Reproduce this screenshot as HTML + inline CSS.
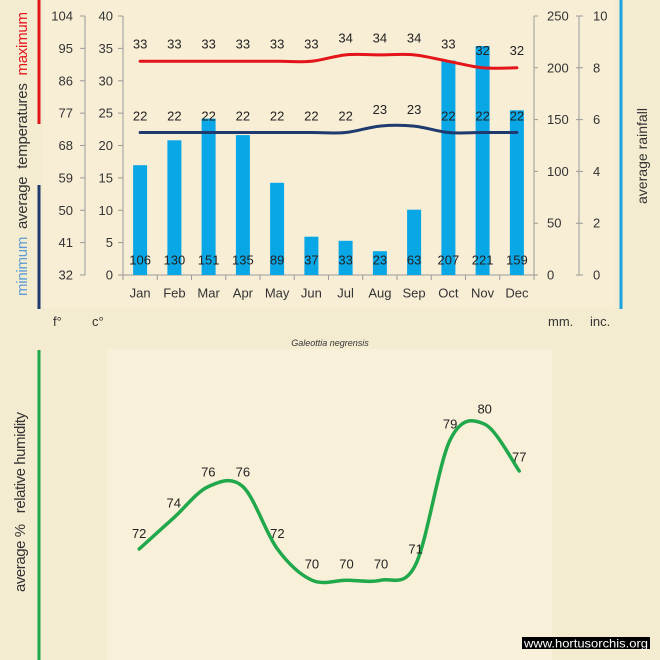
<!DOCTYPE html>
<html><head><meta charset="utf-8"><style>
html,body{margin:0;padding:0;background:#f4ecd1;}
svg{display:block;}
text{font-family:"Liberation Sans",sans-serif;}
.pre{white-space:pre;}
</style></head><body>
<svg width="660" height="660" viewBox="0 0 660 660" xmlns="http://www.w3.org/2000/svg">
<rect x="0" y="0" width="660" height="660" fill="#f4ecd1"/>
<rect x="43" y="0" width="572" height="308" fill="#f8eed6"/>
<rect x="107" y="349" width="445" height="311" fill="#f9f0da"/>

<!-- side colored bars -->
<rect x="37.5" y="0" width="3" height="124" fill="#e3151b"/>
<rect x="37.5" y="185" width="3" height="124" fill="#1f3a6e"/>
<rect x="619.5" y="0" width="3" height="309" fill="#1aa3e0"/>
<rect x="37.5" y="350" width="3" height="310" fill="#20a84b"/>

<!-- rotated titles -->
<text class="pre" transform="translate(27,296) rotate(-90)" font-size="15" textLength="284" lengthAdjust="spacing" fill="#333"><tspan fill="#5b9bd5">minimum</tspan>  average  temperatures  <tspan fill="#e3151b">maximum</tspan></text>
<text transform="translate(647,204) rotate(-90)" font-size="14" textLength="96" lengthAdjust="spacing" fill="#333">average rainfall</text>
<text class="pre" transform="translate(25,592) rotate(-90)" font-size="15" textLength="180" lengthAdjust="spacing" fill="#333">average %   relative humidity</text>

<!-- axes -->
<g stroke="#9a9a9a" stroke-width="1" fill="none">
<line x1="85" y1="16" x2="85" y2="275"/>
<line x1="123" y1="16" x2="123" y2="275"/>
<line x1="534" y1="16" x2="534" y2="275"/>
<line x1="579" y1="16" x2="579" y2="275"/>
<line x1="123" y1="275" x2="534" y2="275"/>
<path d="M80,16H85M80,48.4H85M80,80.75H85M80,113.1H85M80,145.5H85M80,177.9H85M80,210.25H85M80,242.6H85M80,275H85"/>
<path d="M118,16H123M118,48.4H123M118,80.75H123M118,113.1H123M118,145.5H123M118,177.9H123M118,210.25H123M118,242.6H123M118,275H123"/>
<path d="M534,16H538M534,67.8H538M534,119.6H538M534,171.4H538M534,223.2H538M534,275H538"/>
<path d="M576,16H583M576,67.8H583M576,119.6H583M576,171.4H583M576,223.2H583M576,275H583"/>
<path d="M123,275V280M157.25,275V280M191.5,275V280M225.75,275V280M260,275V280M294.25,275V280M328.5,275V280M362.75,275V280M397,275V280M431.25,275V280M465.5,275V280M499.75,275V280M534,275V280"/>
</g>

<!-- axis labels -->
<g font-size="13" fill="#333" text-anchor="end">
<text x="73" y="20.5">104</text><text x="73" y="52.9">95</text><text x="73" y="85.25">86</text><text x="73" y="117.6">77</text><text x="73" y="150">68</text><text x="73" y="182.4">59</text><text x="73" y="214.75">50</text><text x="73" y="247.1">41</text><text x="73" y="279.5">32</text>
<text x="113" y="20.5">40</text><text x="113" y="52.9">35</text><text x="113" y="85.25">30</text><text x="113" y="117.6">25</text><text x="113" y="150">20</text><text x="113" y="182.4">15</text><text x="113" y="214.75">10</text><text x="113" y="247.1">5</text><text x="113" y="279.5">0</text>
</g>
<g font-size="13" fill="#333" text-anchor="start">
<text x="547" y="20.5">250</text><text x="547" y="72.3">200</text><text x="547" y="124.1">150</text><text x="547" y="175.9">100</text><text x="547" y="227.7">50</text><text x="547" y="279.5">0</text>
<text x="593" y="20.5">10</text><text x="593" y="72.3">8</text><text x="593" y="124.1">6</text><text x="593" y="175.9">4</text><text x="593" y="227.7">2</text><text x="593" y="279.5">0</text>
</g>
<g font-size="13" fill="#333" text-anchor="middle">
<text x="140.1" y="297.5">Jan</text><text x="174.4" y="297.5">Feb</text><text x="208.6" y="297.5">Mar</text><text x="242.9" y="297.5">Apr</text><text x="277.1" y="297.5">May</text><text x="311.4" y="297.5">Jun</text><text x="345.6" y="297.5">Jul</text><text x="379.9" y="297.5">Aug</text><text x="414.1" y="297.5">Sep</text><text x="448.4" y="297.5">Oct</text><text x="482.6" y="297.5">Nov</text><text x="516.9" y="297.5">Dec</text>
</g>
<g font-size="13" fill="#333">
<text x="53" y="326">f°</text><text x="92" y="326">c°</text>
<text x="548" y="326">mm.</text><text x="590" y="326">inc.</text>
</g>

<!-- bars -->
<g fill="#0aa7e6">
<rect x="133.1" y="165.2" width="14" height="109.8"/>
<rect x="167.4" y="140.3" width="14" height="134.7"/>
<rect x="201.6" y="118.6" width="14" height="156.4"/>
<rect x="235.9" y="135.1" width="14" height="139.9"/>
<rect x="270.1" y="182.8" width="14" height="92.2"/>
<rect x="304.4" y="236.7" width="14" height="38.3"/>
<rect x="338.6" y="240.8" width="14" height="34.2"/>
<rect x="372.9" y="251.2" width="14" height="23.8"/>
<rect x="407.1" y="209.7" width="14" height="65.3"/>
<rect x="441.4" y="60.5" width="14" height="214.5"/>
<rect x="475.6" y="46" width="14" height="229"/>
<rect x="509.9" y="110.3" width="14" height="164.7"/>
</g>

<!-- temperature lines -->
<path d="M140.1,61.3 L277.1,61.3 C288.5,61.3 300,62.375 311.4,61.3 C322.8,60.225 334.2,55.925 345.6,54.85 C357,53.775 368.5,54.85 379.9,54.85 C391.3,54.85 402.7,53.775 414.1,54.85 C425.5,55.925 437,59.14 448.4,61.3 C459.8,63.46 471.2,66.72 482.6,67.8 C494,68.88 511.2,67.8 516.9,67.8" fill="none" stroke="#e3151b" stroke-width="3" stroke-linecap="round"/>
<path d="M140.1,132.55 L311.4,132.55 C322.8,132.55 334.2,133.625 345.6,132.55 C357,131.475 368.5,127.175 379.9,126.1 C391.3,125.025 402.7,125.025 414.1,126.1 C425.5,127.175 437,131.475 448.4,132.55 C459.8,133.625 471.2,132.55 482.6,132.55 L516.9,132.55" fill="none" stroke="#1f3a6e" stroke-width="3" stroke-linecap="round"/>

<!-- data labels -->
<g font-size="13" fill="#222" text-anchor="middle">
<text x="140.1" y="48.5">33</text><text x="174.4" y="48.5">33</text><text x="208.6" y="48.5">33</text><text x="242.9" y="48.5">33</text><text x="277.1" y="48.5">33</text><text x="311.4" y="48.5">33</text><text x="345.6" y="42.5">34</text><text x="379.9" y="42.5">34</text><text x="414.1" y="42.5">34</text><text x="448.4" y="48.5">33</text><text x="482.6" y="55">32</text><text x="516.9" y="55">32</text>
<text x="140.1" y="120.5">22</text><text x="174.4" y="120.5">22</text><text x="208.6" y="120.5">22</text><text x="242.9" y="120.5">22</text><text x="277.1" y="120.5">22</text><text x="311.4" y="120.5">22</text><text x="345.6" y="120.5">22</text><text x="379.9" y="114">23</text><text x="414.1" y="114">23</text><text x="448.4" y="120.5">22</text><text x="482.6" y="120.5">22</text><text x="516.9" y="120.5">22</text>
<text x="140.1" y="264.5">106</text><text x="174.4" y="264.5">130</text><text x="208.6" y="264.5">151</text><text x="242.9" y="264.5">135</text><text x="277.1" y="264.5">89</text><text x="311.4" y="264.5">37</text><text x="345.6" y="264.5">33</text><text x="379.9" y="264.5">23</text><text x="414.1" y="264.5">63</text><text x="448.4" y="264.5">207</text><text x="482.6" y="264.5">221</text><text x="516.9" y="264.5">159</text>
</g>

<!-- subtitle -->
<text x="330" y="346" font-size="9" font-style="italic" fill="#333" text-anchor="middle">Galeottia negrensis</text>

<!-- humidity curve -->
<path d="M139.2,549 C144.96,543.8 162.23,528.2 173.75,517.8 C185.27,507.4 196.78,491.8 208.3,486.6 C219.82,481.4 231.33,476.2 242.85,486.6 C254.37,497 265.88,533.4 277.4,549 C288.92,564.6 300.43,575 311.95,580.2 C323.47,585.4 334.98,580.2 346.5,580.2 C358.02,580.2 369.53,582.8 381.05,580.2 C392.57,577.6 404.08,588 415.6,564.6 C427.12,541.2 438.63,463.2 450.15,439.8 C461.67,416.4 473.18,419 484.7,424.2 C496.22,429.4 513.49,463.2 519.25,471" fill="none" stroke="#20a84b" stroke-width="3.5" stroke-linecap="round"/>
<g font-size="13" fill="#222" text-anchor="middle">
<text x="139.2" y="538">72</text><text x="173.75" y="507.5">74</text><text x="208.3" y="476.5">76</text><text x="242.85" y="476.5">76</text><text x="277.4" y="538">72</text><text x="311.95" y="568.5">70</text><text x="346.5" y="568.5">70</text><text x="381.05" y="568.5">70</text><text x="415.6" y="553.5">71</text><text x="450.15" y="428.5">79</text><text x="484.7" y="413.5">80</text><text x="519.25" y="461.5">77</text>
</g>

<!-- watermark -->
<rect x="522" y="637" width="128" height="12" fill="#000"/>
<text x="524" y="647.5" font-size="12" fill="#fff" textLength="124" lengthAdjust="spacingAndGlyphs">www.hortusorchis.org</text>
</svg>
</body></html>
